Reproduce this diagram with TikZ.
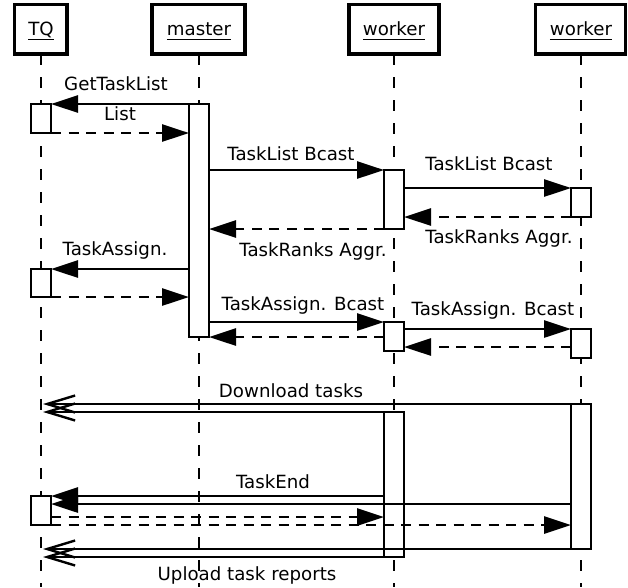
\documentclass[tikz,border=0pt]{standalone}
\usepackage{fontspec}
\setmainfont{DejaVu Sans}
\usetikzlibrary{arrows.meta}
\begin{document}
\begin{tikzpicture}[x=1pt,y=-1pt,
  every node/.style={font=\fontsize{18.2}{21}\selectfont, outer sep=0pt},
  hdr/.style={draw, line width=3.4pt, fill=white, inner sep=0pt},
  hdrtxt/.style={anchor=base, inner sep=0pt},
  uline/.style={line width=1.6pt},
  lbl/.style={anchor=base, inner sep=0pt},
  life/.style={line width=1.5pt, dash pattern=on 11pt off 12pt},
  actbox/.style={draw, fill=white, line width=2.7pt, minimum width=20pt, inner sep=0pt},
  msg/.style={line width=2.8pt, -{Triangle[length=27pt,width=17pt]}},
  ret/.style={msg, dash pattern=on 10pt off 7.5pt},
  asyn/.style={line width=2.8pt, -{Straight Barb[length=28pt,width=17pt,line width=2.4pt]}},
]
\useasboundingbox (0,0) rectangle (628,587);

% lifeline ends
\coordinate (tqbot) at (41,587);
\coordinate (mbot) at (199,587);
\coordinate (w1bot) at (394,587);
\coordinate (w2bot) at (581,587);
\coordinate (tqll) at (43,0);

% headers
\node[hdr, minimum width=52.5pt, minimum height=49.5pt] (tq) at (40.75,29.25) {};
\node[hdr, minimum width=93pt, minimum height=49.5pt] (m) at (198.5,29.25) {};
\node[hdr, minimum width=90pt, minimum height=49.5pt] (w1) at (394,29.25) {};
\node[hdr, minimum width=90pt, minimum height=49.5pt] (w2) at (580.5,29.25) {};

% lifelines
\draw[life] (tq.south -| tqbot) -- (tqbot);
\draw[life] (m.south -| mbot) -- (mbot);
\draw[life] (w1.south -| w1bot) -- (w1bot);
\draw[life] (w2.south -| w2bot) -- (w2bot);

% header texts
\node[hdrtxt] (tqt) at (41,35) {TQ};
\node[hdrtxt] (mt) at (199,35) {master};
\node[hdrtxt] (w1t) at (394,35) {worker};
\node[hdrtxt] (w2t) at (581,35) {worker};
\foreach \t in {tqt,mt,w1t,w2t}
  \draw[uline] ([yshift=-4.3pt]\t.base west) -- ([yshift=-4.3pt]\t.base east);

% activations
\node[actbox, minimum height=233pt] (ma) at (199,220.5) {};
\node[actbox, minimum height=29pt] (tq1) at (41,118.5) {};
\node[actbox, minimum height=28pt] (tq2) at (41,283) {};
\node[actbox, minimum height=29pt] (tq3) at (41,510.5) {};
\node[actbox, minimum height=59pt] (a1) at (394,199.5) {};
\node[actbox, minimum height=29pt] (a2) at (394,336.5) {};
\node[actbox, minimum height=145pt] (a3) at (394,484.5) {};
\node[actbox, minimum height=29pt] (b1) at (581,202.5) {};
\node[actbox, minimum height=29pt] (b2) at (581,343.5) {};
\node[actbox, minimum height=145pt] (b3) at (581,476.5) {};

% messages
\draw[msg] (ma.north west) -- (tq1.north east);
\draw[ret] (tq1.south east) -- (ma.west |- tq1.south);
\draw[msg] (ma.east |- a1.north) -- (a1.north west);
\draw[msg] (a1.east |- b1.north) -- (b1.north west);
\draw[ret] (b1.south west) -- (a1.east |- b1.south);
\draw[ret] (a1.south west) -- (ma.east |- a1.south);
\draw[msg] (ma.west |- tq2.north) -- (tq2.north east);
\draw[ret] (tq2.south east) -- (ma.west |- tq2.south);
\draw[msg] (ma.east |- a2.north) -- (a2.north west);
\draw[msg] (a2.east |- b2.north) -- (b2.north west);
\draw[ret] (b2.west |- 0,347) -- (a2.east |- 0,347);
\draw[ret] (a2.west |- ma.south) -- (ma.south east);

\draw[asyn] (b3.north west) -- (b3.north west -| tqll);
\draw[asyn] (a3.north west) -- (a3.north west -| tqll);

\draw[msg] (a3.west |- tq3.north) -- (tq3.north east);
\draw[msg] (b3.west |- 0,504) -- (tq3.east |- 0,504);
\draw[ret] (tq3.east |- 0,517) -- (a3.west |- 0,517);
\draw[ret] (tq3.south east) -- (b3.west |- tq3.south);

\draw[asyn] (b3.south west) -- (b3.south west -| tqll);
\draw[asyn] (a3.south west) -- (a3.south west -| tqll);

% labels
\node[lbl] (l1) at (116,90) {GetTaskList};
\node[lbl] (l2) at (120,120) {List};
\node[lbl] (l3) at (291,160) {TaskList Bcast};
\node[lbl] (l4) at (489,170) {TaskList Bcast};
\node[lbl] (l5) at (499,243) {TaskRanks Aggr.};
\node[lbl] (l6) at (313,256) {TaskRanks Aggr.};
\node[lbl] (l7) at (115,255) {TaskAssign.};
\node[lbl] (l8) at (303,310) {TaskAssign. Bcast};
\node[lbl] (l9) at (493,315) {TaskAssign. Bcast};
\node[lbl] (l10) at (291,397) {Download tasks};
\node[lbl] (l11) at (273,488) {TaskEnd};
\node[lbl] (l12) at (247,580) {Upload task reports};
\end{tikzpicture}
\end{document}
